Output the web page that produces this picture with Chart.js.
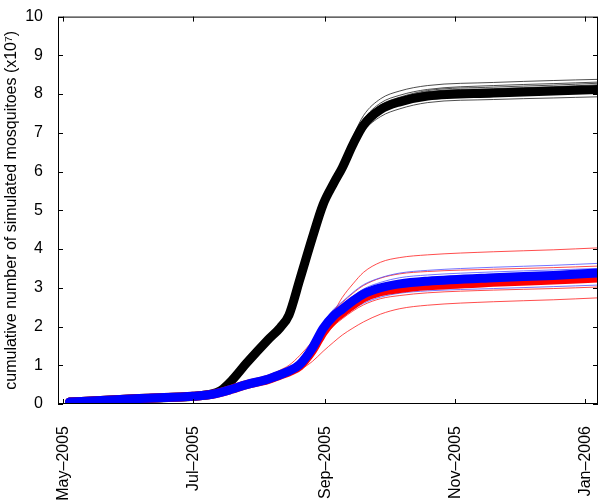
<!DOCTYPE html>
<html>
<head>
<meta charset="utf-8">
<script src="https://cdn.jsdelivr.net/npm/chart.js@4.4.1/dist/chart.umd.min.js"></script>
<style>
  html, body { margin: 0; padding: 0; background: #fff; }
  #wrap { width: 600px; height: 500px; }
</style>
</head>
<body>
<div id="wrap"><canvas id="chart"></canvas></div>
<script>
// days counted from 1 May 2005
const days = [3, 20, 40, 61, 70, 74, 79, 86, 96, 102, 106, 111, 117, 122, 127, 131, 136, 141, 149, 158, 171, 202, 230, 251];
const monthTicks = [0, 61, 123, 184, 245];
const monthLabels = ['May\u20132005', 'Jul\u20132005', 'Sep\u20132005', 'Nov\u20132005', 'Jan\u20132006'];
const yTicks = [0, 1, 2, 3, 4, 5, 6, 7, 8, 9, 10];

// mean curves (x10^7)
const blackMean = [0.05, 0.1, 0.15, 0.2, 0.26, 0.35, 0.6, 1.05, 1.65, 1.98, 2.3, 3.2, 4.3, 5.15, 5.7, 6.1, 6.7, 7.2, 7.6, 7.8, 7.95, 8.03, 8.08, 8.12];
const redMean = [0.05, 0.1, 0.15, 0.2, 0.25, 0.3, 0.38, 0.5, 0.63, 0.75, 0.83, 0.98, 1.38, 1.85, 2.18, 2.36, 2.56, 2.74, 2.9, 2.98, 3.05, 3.14, 3.2, 3.25];
const blueMean = [0.05, 0.1, 0.15, 0.2, 0.25, 0.3, 0.38, 0.5, 0.64, 0.76, 0.85, 1.02, 1.45, 1.95, 2.28, 2.45, 2.66, 2.84, 3.0, 3.1, 3.17, 3.26, 3.32, 3.38];

// individual runs
const blackRuns = [
  [0.05, 0.1, 0.15, 0.2, 0.26, 0.35, 0.6, 1.05, 1.65, 1.98, 2.3, 3.25, 4.38, 5.25, 5.82, 6.25, 6.9, 7.45, 7.88, 8.08, 8.22, 8.3, 8.35, 8.38],
  [0.05, 0.1, 0.15, 0.2, 0.26, 0.35, 0.6, 1.05, 1.65, 1.98, 2.3, 3.22, 4.34, 5.2, 5.77, 6.18, 6.8, 7.34, 7.77, 7.97, 8.12, 8.22, 8.27, 8.31],
  [0.05, 0.1, 0.15, 0.2, 0.26, 0.35, 0.6, 1.05, 1.65, 1.98, 2.3, 3.21, 4.31, 5.17, 5.73, 6.14, 6.76, 7.28, 7.7, 7.9, 8.06, 8.14, 8.19, 8.24],
  [0.05, 0.1, 0.15, 0.2, 0.26, 0.35, 0.6, 1.05, 1.65, 1.98, 2.3, 3.19, 4.28, 5.13, 5.68, 6.08, 6.66, 7.16, 7.56, 7.75, 7.9, 7.98, 8.02, 8.06],
  [0.05, 0.1, 0.15, 0.2, 0.26, 0.35, 0.6, 1.05, 1.65, 1.98, 2.3, 3.16, 4.24, 5.08, 5.62, 6.0, 6.56, 7.04, 7.42, 7.62, 7.78, 7.86, 7.9, 7.93],
  [0.05, 0.1, 0.15, 0.2, 0.26, 0.35, 0.6, 1.05, 1.65, 1.98, 2.3, 3.2, 4.32, 5.19, 5.75, 6.16, 6.78, 7.3, 7.72, 7.92, 8.09, 8.18, 8.23, 8.28]
];
const redRuns = [
  [0.05, 0.1, 0.15, 0.2, 0.25, 0.3, 0.4, 0.55, 0.72, 0.88, 1.0, 1.25, 1.62, 1.98, 2.38, 2.75, 3.1, 3.4, 3.66, 3.78, 3.85, 3.93, 3.98, 4.03],
  [0.05, 0.1, 0.15, 0.2, 0.25, 0.3, 0.37, 0.47, 0.6, 0.68, 0.75, 0.88, 1.1, 1.36, 1.6, 1.78, 1.96, 2.12, 2.32, 2.46, 2.55, 2.64, 2.69, 2.74],
  [0.05, 0.1, 0.15, 0.2, 0.25, 0.3, 0.39, 0.52, 0.67, 0.8, 0.9, 1.1, 1.55, 2.08, 2.42, 2.62, 2.86, 3.06, 3.25, 3.36, 3.42, 3.48, 3.52, 3.56],
  [0.05, 0.1, 0.15, 0.2, 0.25, 0.3, 0.38, 0.49, 0.62, 0.73, 0.8, 0.94, 1.3, 1.72, 2.02, 2.2, 2.4, 2.56, 2.72, 2.8, 2.87, 2.94, 2.98, 3.02],
  [0.05, 0.1, 0.15, 0.2, 0.25, 0.3, 0.38, 0.5, 0.63, 0.76, 0.85, 1.0, 1.42, 1.9, 2.24, 2.42, 2.62, 2.8, 2.96, 3.05, 3.12, 3.22, 3.28, 3.34]
];
const blueRuns = [
  [0.05, 0.1, 0.15, 0.2, 0.25, 0.3, 0.39, 0.52, 0.67, 0.8, 0.9, 1.08, 1.55, 2.08, 2.45, 2.64, 2.88, 3.08, 3.26, 3.38, 3.45, 3.53, 3.58, 3.63],
  [0.05, 0.1, 0.15, 0.2, 0.25, 0.3, 0.38, 0.49, 0.62, 0.73, 0.8, 0.95, 1.3, 1.75, 2.06, 2.24, 2.44, 2.6, 2.76, 2.86, 2.92, 2.98, 3.03, 3.07],
  [0.05, 0.1, 0.15, 0.2, 0.25, 0.3, 0.38, 0.51, 0.66, 0.78, 0.88, 1.05, 1.5, 2.02, 2.38, 2.56, 2.78, 2.97, 3.14, 3.26, 3.33, 3.41, 3.46, 3.5],
  [0.05, 0.1, 0.15, 0.2, 0.25, 0.3, 0.38, 0.5, 0.63, 0.75, 0.84, 1.0, 1.42, 1.9, 2.22, 2.39, 2.6, 2.77, 2.92, 3.02, 3.09, 3.18, 3.23, 3.28]
];

function pts(vals) {
  return vals.map((v, i) => ({ x: days[i], y: v }));
}

function line(vals, color, width, order) {
  return {
    data: pts(vals),
    borderColor: color,
    borderWidth: width,
    pointRadius: 0,
    cubicInterpolationMode: 'monotone',
    borderCapStyle: 'round',
    borderJoinStyle: 'round',
    fill: false,
    order: order
  };
}

const datasets = [];
blackRuns.forEach(r => datasets.push(line(r, '#000000', 0.7, 6)));
datasets.push(line(blackMean, '#000000', 9, 5));
redRuns.forEach(r => datasets.push(line(r, '#ff2020', 0.8, 4)));
blueRuns.forEach(r => datasets.push(line(r, '#5050ff', 0.8, 3)));
datasets.push(line(redMean, '#ff0000', 9, 2));
datasets.push(line(blueMean, '#0000ff', 9, 1));

// MATLAB style box with inward ticks
const boxPlugin = {
  id: 'box',
  afterDatasetsDraw(chart) {
    const { ctx, chartArea: a, scales } = chart;
    ctx.save();
    ctx.strokeStyle = '#000';
    ctx.lineWidth = 1;
    ctx.strokeRect(a.left + 0.5, a.top + 0.5, a.right - a.left - 1, a.bottom - a.top - 1);
    ctx.beginPath();
    const len = 5;
    monthTicks.forEach(v => {
      const x = Math.round(scales.x.getPixelForValue(v)) + 0.5;
      ctx.moveTo(x, a.bottom); ctx.lineTo(x, a.bottom - len);
      ctx.moveTo(x, a.top); ctx.lineTo(x, a.top + len);
    });
    yTicks.forEach(v => {
      const y = Math.round(scales.y.getPixelForValue(v)) + 0.5;
      ctx.moveTo(a.left, y); ctx.lineTo(a.left + len, y);
      ctx.moveTo(a.right, y); ctx.lineTo(a.right - len, y);
    });
    ctx.stroke();
    ctx.restore();
  }
};

const tickFont = { family: '"Liberation Sans", Arial, sans-serif', size: 16 };

new Chart(document.getElementById('chart'), {
  type: 'line',
  data: { datasets },
  plugins: [boxPlugin],
  options: {
    responsive: true,
    maintainAspectRatio: false,
    animation: false,
    layout: { padding: { top: 16, right: 2, left: 0, bottom: 0 } },
    plugins: { legend: { display: false }, tooltip: { enabled: false } },
    scales: {
      x: {
        type: 'linear',
        min: -2.4,
        max: 251,
        grid: { display: false },
        border: { display: false },
        afterBuildTicks: s => { s.ticks = monthTicks.map(v => ({ value: v })); },
        afterFit: s => { s.height = 96; s.paddingLeft = 0; s.paddingRight = 0; },
        ticks: {
          autoSkip: false,
          maxRotation: 90,
          minRotation: 90,
          padding: 14,
          color: '#000',
          font: tickFont,
          callback: (v, i) => monthLabels[i]
        }
      },
      y: {
        min: 0,
        max: 10,
        grid: { display: false },
        border: { display: false },
        afterFit: s => { s.width = 58; },
        ticks: {
          stepSize: 1,
          padding: 7,
          color: '#000',
          font: tickFont
        },
        title: {
          display: true,
          text: 'cumulative number of simulated mosquitoes (x10\u2077)',
          color: '#000',
          padding: { top: 2, bottom: 0 },
          font: { family: '"Liberation Sans", Arial, sans-serif', size: 16 }
        }
      }
    }
  }
});
</script>
</body>
</html>
